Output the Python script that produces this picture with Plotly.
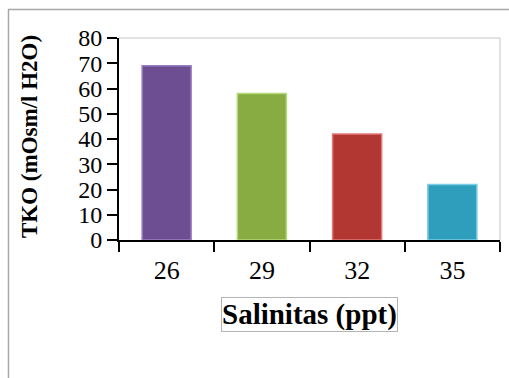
import plotly.graph_objects as go

# Osmotic work level (TKO) at each salinity
salinity = ["26", "29", "32", "35"]
tko = [69, 58, 42, 22]
bar_colors = ["#6D4E93", "#89AC42", "#B23632", "#2F9DBC"]
edge_colors = ["#9A80C0", "#B5D87A", "#E07A76", "#7CCDE6"]
y_ticks = [0, 10, 20, 30, 40, 50, 60, 70, 80]

W, H = 509, 378
L, R, T, B = 119, 9, 38, 138
pw, ph = W - L - R, H - T - B


def px_x(px):
    return (px - L) / pw


def px_y(py):
    return (H - B - py) / ph


serif = "Liberation Serif, Times New Roman, serif"

fig = go.Figure(
    go.Bar(
        x=salinity,
        y=tko,
        marker=dict(color=bar_colors, line=dict(color=edge_colors, width=1.5)),
        width=0.515,
    )
)

fig.update_layout(
    width=W,
    height=H,
    margin=dict(l=L, r=R, t=T, b=B, pad=0),
    paper_bgcolor="white",
    plot_bgcolor="white",
    showlegend=False,
    font=dict(family=serif, color="black"),
)

fig.update_xaxes(
    type="category",
    range=[-0.5, 3.5],
    showline=True,
    linecolor="black",
    linewidth=2,
    ticks="outside",
    tickson="boundaries",
    ticklen=10,
    tickwidth=2,
    tickcolor="black",
    tickfont=dict(family=serif, size=26, color="black"),
    ticklabelstandoff=6,
    showgrid=False,
    zeroline=False,
)

fig.update_yaxes(
    range=[0, 80],
    tickvals=y_ticks,
    showline=True,
    linecolor="black",
    linewidth=2,
    ticks="outside",
    ticklen=10,
    tickwidth=2,
    tickcolor="black",
    tickfont=dict(family=serif, size=24, color="black"),
    ticklabelstandoff=0,
    showgrid=False,
    zeroline=False,
)

shapes = [
    # light frame on the top and right of the plot area
    dict(type="line", xref="paper", yref="paper", x0=0, x1=1, y0=1, y1=1,
         line=dict(color="#C4C4C4", width=1)),
    dict(type="line", xref="paper", yref="paper", x0=1, x1=1, y0=0, y1=1,
         line=dict(color="#C4C4C4", width=1)),
    # outer chart frame
    dict(type="line", xref="paper", yref="paper", x0=px_x(8), x1=px_x(W + 5),
         y0=px_y(9.5), y1=px_y(9.5), line=dict(color="#A8A8A8", width=1.5)),
    dict(type="line", xref="paper", yref="paper", x0=px_x(8.5), x1=px_x(8.5),
         y0=px_y(9.5), y1=px_y(H + 5), line=dict(color="#A8A8A8", width=1.5)),
]

annotations = [
    dict(text="<b>Salinitas (ppt)</b>", xref="paper", yref="paper",
         x=px_x(309.5), y=px_y(314), xanchor="center", yanchor="middle",
         showarrow=False,
         font=dict(family=serif, size=29, color="black"),
         bordercolor="#B4B4B4", borderwidth=1, borderpad=0),
    dict(text="<b>TKO (mOsm/l H2O)</b>", xref="paper", yref="paper",
         x=px_x(29), y=px_y(137), xanchor="center", yanchor="middle",
         showarrow=False, textangle=-90,
         font=dict(family=serif, size=23, color="black")),
]

fig.update_layout(shapes=shapes, annotations=annotations)

fig.write_html("out.html")
